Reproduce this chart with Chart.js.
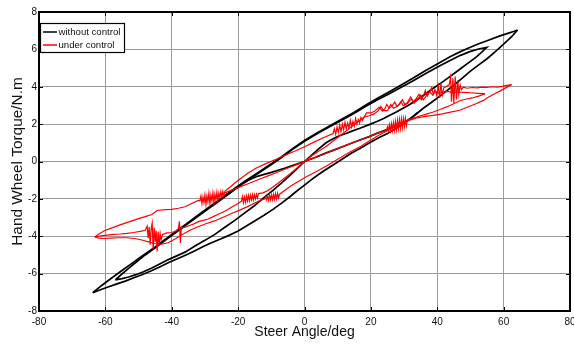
<!DOCTYPE html>
<html><head><meta charset="utf-8">
<script src="https://cdn.jsdelivr.net/npm/chart.js@4.4.1/dist/chart.umd.min.js"></script>
<style>html,body{margin:0;padding:0;background:#fff;}#wrap{width:574px;height:347px;position:relative;}</style>
</head><body><div id="wrap"><canvas id="c" width="574" height="347"></canvas></div>
<script>
// ---- tick labels / names ----
const xTickVals = [-80,-60,-40,-20,0,20,40,60,80];
const yTickVals = [-8,-6,-4,-2,0,2,4,6,8];
const seriesNames = ['without control','under control'];
const xTitle = 'Steer Angle/deg';
const yTitle = 'Hand Wheel Torque/N.m';

// ---- "without control" (black) traces, [angle, torque] ----
const blkOuterUpper = [[-63.8,-7.02],[-61,-6.62],[-58,-6.22],[-55,-5.83],[-52,-5.45],[-49,-5.07],[-45,-4.57],[-42,-4.17],[-39,-3.78],[-35,-3.26],[-32,-2.86],[-29,-2.47],[-25,-1.96],[-21,-1.44],[-18,-1.06],[-14.5,-0.65],[-11,-0.24],[-7,0.24],[-3.5,0.7],[0,1.12],[3.5,1.5],[7,1.85],[11.6,2.3],[15,2.64],[18.5,3.03],[22,3.38],[25.7,3.74],[29,4.08],[32.5,4.44],[36,4.82],[40.8,5.3],[44,5.62],[47,5.88],[49.8,6.1],[52.5,6.3],[55,6.46],[58.9,6.72],[61.5,6.87],[63.2,6.97],[64.2,7.04]];
const blkOuterLower = [[64.2,7.04],[62.5,6.7],[60,6.28],[57.5,5.88],[55,5.5],[52.5,5.17],[50,4.84],[47.8,4.5],[45.8,4.2],[43.3,3.85],[40.8,3.5],[38.3,3.17],[35.8,2.85],[33,2.45],[30,2.05],[27.5,1.76],[25,1.5],[22.5,1.28],[20,1.04],[16.7,0.7],[14.2,0.45],[12,0.2],[8.6,-0.19],[6,-0.48],[4,-0.72],[2,-0.98],[0,-1.26],[-2.3,-1.58],[-4.5,-1.9],[-7,-2.24],[-9.5,-2.56],[-12.2,-2.88],[-14.9,-3.17],[-17.5,-3.45],[-20,-3.72],[-22.6,-3.94],[-25.3,-4.15],[-28,-4.35],[-30.5,-4.55],[-33,-4.78],[-35.7,-5.0],[-38.3,-5.2],[-40.9,-5.4],[-43.5,-5.63],[-46.1,-5.85],[-48.8,-6.05],[-51.4,-6.22],[-54,-6.4],[-56.5,-6.55],[-59,-6.7],[-61.5,-6.86],[-63.8,-7.02]];
const blkInner = [[-57,-6.34],[-55,-6.02],[-53,-5.72],[-50.5,-5.35],[-48,-5.0],[-45,-4.62],[-42,-4.22],[-39,-3.83],[-35,-3.31],[-32,-2.92],[-29,-2.53],[-25,-2.02],[-21,-1.5],[-18,-1.12],[-14.5,-0.7],[-11,-0.28],[-7,0.2],[-3.5,0.66],[0,1.08],[3.5,1.46],[7,1.8],[11.6,2.25],[15,2.58],[18.5,2.96],[22,3.3],[25.7,3.64],[29,3.96],[32.5,4.3],[36,4.65],[40.8,5.12],[44,5.42],[47,5.68],[49.8,5.88],[52.5,6.02],[54.9,6.11],
  [53.5,5.87],[51.9,5.61],[49.8,5.33],[47.8,5.07],[45.8,4.8],[43.8,4.54],[41.3,4.22],[38.8,3.92],[36.3,3.6],[33.8,3.29],[31.7,3.05],[29.7,2.85],[27.8,2.66],[26,2.5],[24,2.32],[22,2.15],[19.3,1.96],[16.7,1.78],[14.5,1.64],[12.5,1.5],[10.5,1.38],[8.6,1.22],[6.5,1.0],[4,0.64],[2,0.32],[0,0],[-3,-0.52],[-6.45,-1.08],[-9.5,-1.55],[-12.5,-1.97],[-15.2,-2.38],[-18,-2.75],[-21,-3.15],[-24,-3.52],[-27,-3.9],[-30,-4.22],[-33,-4.52],[-36,-4.85],[-38.5,-5.05],[-41,-5.25],[-43.5,-5.47],[-46,-5.7],[-48.5,-5.9],[-51,-6.07],[-53,-6.18],[-55,-6.27],[-57,-6.34]];
const blkShallow = [[-24,-1.83],[-20,-1.32],[-17,-1.0],[-14,-0.78],[-10,-0.58],[-6,-0.36],[-3,-0.18],[0,0],[3,0.2],[6,0.42],[9,0.62],[12,0.83],[14.5,1.0],[16.7,1.15],[19.5,1.33],[22,1.52],[24.5,1.68],[27,1.85],[29.5,2.03],[32,2.3],[34,2.6]];

// ---- "under control" (red) traces ----
const redOuterUpper = [[-63.2,-4.04],[-62,-3.88],[-60,-3.68],[-58,-3.55],[-56,-3.42],[-54,-3.3],[-52,-3.18],[-50,-3.06],[-48,-2.95],[-46,-2.84],[-44.4,-2.62],[-42,-2.58],[-40,-2.56],[-38,-2.5],[-36,-2.42],[-34,-2.25],[-32,-2.08],
  [-31.5,-2.1],[-31.2,-1.85],[-30.9,-2.25],[-30.6,-1.9],[-30.3,-2.2],[-30,-1.8],[-29.7,-2.3],[-29.4,-1.85],[-29.1,-2.15],[-28.8,-1.7],[-28.5,-2.25],[-28.2,-1.8],[-27.9,-2.1],[-27.6,-1.68],[-27.3,-2.2],[-27,-1.75],[-26.7,-2.05],[-26.4,-1.65],[-26.1,-2.1],[-25.8,-1.7],[-25.5,-1.95],[-25.2,-1.62],[-24.9,-1.9],[-24.6,-1.6],[-24.3,-1.85],[-24,-1.6],
  [-22.5,-1.38],[-21,-1.15],[-19,-0.88],[-17,-0.62],[-14.5,-0.35],[-11.5,-0.1],[-8.5,0.12],[-6,0.33],[-3,0.55],[0,0.79],[3,1.05],[6,1.3],[8.6,1.5],
  [9,1.75],[9.4,1.45],[9.8,1.85],[10.2,1.55],[10.6,1.95],[11,1.6],[11.4,2.0],[11.8,1.7],[12.2,2.1],[12.6,1.75],[13,2.05],[13.4,1.8],[13.8,2.2],[14.2,1.85],[14.6,2.15],[15,1.9],[15.4,2.3],[15.8,2.0],[16.2,2.25],[16.6,2.05],[17,2.35],[17.4,2.2],
  [18.7,2.6],[20,2.6],[21.3,2.72],[22.5,2.9],[23.5,2.7],[24.3,2.85],[24.8,3.05],[25.5,2.85],[26.3,2.95],[27.2,3.18],[27.8,2.95],[28.6,3.05],[29.5,3.3],[30.2,3.05],[31,3.15],[32,3.45],[32.8,3.2],[33.6,3.35],[34.5,3.6],[35.2,3.3],[35.8,3.5],[36.4,3.8],[37,3.5],[37.6,3.7],[38.3,3.95],[38.8,3.6],[39.3,3.85],[39.8,3.55],[40.3,4.05],[40.7,3.4],[41.1,4.2],[41.5,3.55],[42,3.95],[42.8,4.02],[43.6,4.1],[44,4.5],[44.3,3.2],[44.7,4.45],[45,3.1],[45.4,4.55],[45.8,3.3],[46.2,4.35],[46.5,3.6],[46.9,4.1],[47.3,3.85],[47.8,3.98],[49,3.92],[50.5,3.96],[52,3.94],[53.5,3.98],[55,3.97],[56.5,4.0],[58,3.98],[59.5,4.02],[61,4.07],[62.4,4.11]];
const redOuterLower = [[62.4,4.11],[61,3.98],[59,3.78],[57,3.6],[55.5,3.45],[53.9,3.27],[51.5,3.08],[49,2.9],[46.8,2.74],[44,2.64],[41.5,2.55],[38.8,2.47],[36,2.4],[33.8,2.33],[31.5,2.2],[29,2.0],[27,1.85],[25,1.65],[22.5,1.42],[20,1.15],[17,0.82],[13.7,0.51],[10,0.12],[7,-0.2],[4,-0.5],[2,-0.68],[0,-0.87],[-2,-1.08],[-4,-1.3],[-6,-1.55],
  [-7.5,-1.75],[-7.8,-1.95],[-8.1,-1.7],[-8.4,-2.0],[-8.7,-1.72],[-9,-2.02],[-9.3,-1.75],[-9.6,-2.05],[-9.9,-1.78],[-10.2,-2.05],[-10.5,-1.8],[-10.8,-2.08],[-11.1,-1.85],[-11.4,-2.05],[-11.7,-1.88],[-12,-2.0],
  [-13,-2.05],[-15,-2.22],[-17,-2.4],[-19.5,-2.6],[-22,-2.78],[-24.5,-2.98],[-27.1,-3.18],[-29.5,-3.32],[-32.1,-3.49],[-34.5,-3.68],[-37.1,-3.93],[-39,-4.15],[-41.1,-4.35],[-43,-4.42],[-45,-4.4],[-47,-4.3],[-49,-4.2],[-51.2,-4.12],[-53.5,-4.08],[-56.2,-4.08],[-58.5,-4.1],[-60.5,-4.12],[-62,-4.1],[-63.2,-4.04]];
const redInnerA = [[-63.2,-4.04],[-61.5,-3.98],[-59.5,-3.94],[-57.5,-3.9],[-55.5,-3.88],[-53.5,-3.85],[-51.5,-3.8],[-49.5,-3.74],[-48,-3.68],
  [-47.4,-3.45],[-47.1,-4.1],[-46.8,-3.5],[-46.5,-4.45],[-46.2,-3.6],[-45.9,-3.3],[-45.6,-4.7],[-45.3,-3.55],[-45,-4.3],[-44.7,-3.7],[-44.4,-4.82],[-44.1,-3.75],[-43.8,-4.5],[-43.5,-3.85],[-43.2,-4.2],[-42.8,-3.9],
  [-41.5,-3.82],[-40,-3.8],[-38.8,-3.72],[-38,-3.6],[-37.7,-3.2],[-37.4,-4.36],[-37.1,-3.5],[-36.6,-3.55],[-35,-3.45],[-33.5,-3.35],[-32,-3.22],[-30.5,-3.15],[-29,-3.08],[-27.5,-2.95],[-26,-2.82],[-24.5,-2.7],[-23,-2.55],[-21.5,-2.4],[-20,-2.25],[-19,-2.12],
  [-18.7,-1.88],[-18.4,-2.2],[-18.1,-1.9],[-17.8,-2.18],[-17.5,-1.85],[-17.2,-2.12],[-16.9,-1.82],[-16.6,-2.1],[-16.3,-1.8],[-16,-2.05],[-15.7,-1.78],[-15.4,-2.05],[-15.1,-1.78],[-14.8,-2.0],[-14.5,-1.75],[-14.2,-1.95],[-13.9,-1.72],
  [-12.5,-1.68],[-11,-1.55],[-9.5,-1.36],[-8,-1.16],[-6.45,-0.95],[-4.5,-0.68],[-2.5,-0.38],[0,0],[2,0.28],[4,0.52],[6.6,0.82],[9,1.15],[11.6,1.5],[13.8,1.82],[16,2.12],[18,2.38],
  [19.5,2.45],[21,2.55],[22.2,2.72],[23,2.95],[23.8,2.72],[25,2.72],[26,3.05],[26.8,2.85],[28,2.95],[29,3.2],[29.8,2.98],[31,3.1],[32.2,3.35],[33,3.12],[34,3.3],[35,3.55],[35.8,3.3],[36.8,3.55],[37.8,3.72],[38.6,3.55],[39.5,3.75],[40.5,3.65],[41.5,3.7],[43,3.75],[44.5,3.7],[46,3.72],[48,3.7],[50,3.68],[52.3,3.65],[54.4,3.63]];
const redInnerB = [[54.4,3.63],[52.5,3.5],[50.5,3.4],[48.5,3.33],[46.8,3.25],[44.8,3.08],[42.8,2.92],[40.8,2.78],[38.8,2.65],[36.5,2.52],[34.5,2.42],[32.5,2.3],[31,2.22],
  [30.7,1.92],[30.4,2.32],[30.1,1.88],[29.8,2.3],[29.5,1.82],[29.2,2.28],[28.9,1.78],[28.6,2.24],[28.3,1.75],[28,2.2],[27.7,1.7],[27.4,2.14],[27.1,1.68],[26.8,2.08],[26.5,1.66],[26.2,2.02],[25.9,1.65],[25.6,1.97],[25.3,1.66],[25,1.86],[24.7,1.66],
  [22,1.52],[19,1.3],[16,1.1],[13,0.9],[10,0.69],[7,0.48],[4,0.27],[2,0.14],[0,0],[-2,-0.14],[-5,-0.35],[-8,-0.56],[-11,-0.77],[-14,-0.98],[-17,-1.19],[-20,-1.4],[-22.5,-1.57],[-24,-1.68]];

const toPts = a => a.map(p => ({x: p[0], y: p[1]}));
const BLACK = '#000000', RED = '#ff0000';
function ds(arr, color, w, label, order){
  return {label: label, data: toPts(arr), showLine: true, borderColor: color, backgroundColor: color,
    borderWidth: w, pointRadius: 0, pointHoverRadius: 0, tension: 0, fill: false, order: order, inLegend: !!label};
}
const datasets = [
  ds(blkOuterUpper, BLACK, 1.7, seriesNames[0], 2),
  ds(blkOuterLower, BLACK, 1.7, null, 2),
  ds(blkInner, BLACK, 1.7, null, 2),
  ds(blkShallow, BLACK, 1.7, null, 2),
  ds(redOuterUpper, RED, 1.2, seriesNames[1], 1),
  ds(redOuterLower, RED, 1.2, null, 1),
  ds(redInnerA, RED, 1.2, null, 1),
  ds(redInnerB, RED, 1.2, null, 1)
];

const FONT = "'Liberation Sans', Arial, Helvetica, sans-serif";

const framePlugin = {
  id: 'frame',
  afterDatasetsDraw(chart){
    const {ctx, chartArea: a, scales: {x, y}} = chart;
    ctx.save();
    ctx.strokeStyle = '#000'; ctx.lineWidth = 1;
    ctx.beginPath();
    x.ticks.forEach(t => { const p = Math.round(x.getPixelForValue(t.value)) + 0.5;
      ctx.moveTo(p, a.bottom); ctx.lineTo(p, a.bottom - 4); ctx.moveTo(p, a.top); ctx.lineTo(p, a.top + 4); });
    y.ticks.forEach(t => { const p = Math.round(y.getPixelForValue(t.value)) + 0.5;
      ctx.moveTo(a.left, p); ctx.lineTo(a.left + 4, p); ctx.moveTo(a.right, p); ctx.lineTo(a.right - 4, p); });
    ctx.stroke();
    ctx.lineWidth = 2;
    ctx.strokeRect(a.left, a.top, a.right - a.left, a.bottom - a.top);
    ctx.restore();
  },
  afterDraw(chart){
    const {ctx, chartArea: a} = chart;
    const items = chart.data.datasets.filter(d => d.inLegend);
    const bx = a.left + 1, by = a.top + 11, bw = 84, bh = 29;
    ctx.save();
    ctx.fillStyle = '#fff'; ctx.fillRect(bx, by, bw, bh);
    ctx.strokeStyle = '#000'; ctx.lineWidth = 1.2; ctx.strokeRect(bx + 0.5, by + 0.5, bw, bh);
    ctx.font = '9.6px ' + FONT; ctx.textBaseline = 'middle'; ctx.textAlign = 'left';
    items.forEach((d, i) => {
      const ly = by + 9 + i * 13;
      ctx.strokeStyle = d.borderColor; ctx.lineWidth = 1.5;
      ctx.beginPath(); ctx.moveTo(bx + 3, ly); ctx.lineTo(bx + 17, ly); ctx.stroke();
      ctx.fillStyle = '#111'; ctx.fillText(d.label, bx + 18.5, ly + 0.5);
    });
    ctx.restore();
  }
};

new Chart(document.getElementById('c'), {
  type: 'scatter',
  data: {datasets: datasets},
  options: {
    responsive: false, animation: false, devicePixelRatio: 1,
    layout: {padding: {top: 12, right: 4, left: 0, bottom: 0}},
    plugins: {legend: {display: false}, tooltip: {enabled: false}},
    events: [],
    scales: {
      x: {type: 'linear', min: -80, max: 80,
        afterBuildTicks: s => { s.ticks = xTickVals.map(v => ({value: v})); },
        grid: {color: '#9a9a9a', lineWidth: 1, drawTicks: false},
        border: {display: false},
        ticks: {autoSkip: false, maxRotation: 0, padding: 5, color: '#111', font: {family: FONT, size: 10}, callback: v => String(v)},
        title: {display: true, text: xTitle, color: '#111', font: {family: FONT, size: 14}, padding: {top: 0, bottom: 6}},
        afterFit: s => { s.height = 36; s.paddingLeft = 0; s.paddingRight = 0; }
      },
      y: {type: 'linear', min: -8, max: 8,
        afterBuildTicks: s => { s.ticks = yTickVals.map(v => ({value: v})); },
        grid: {color: '#9a9a9a', lineWidth: 1, drawTicks: false},
        border: {display: false},
        ticks: {autoSkip: false, padding: 2, color: '#111', font: {family: FONT, size: 10}, callback: v => String(v)},
        title: {display: true, text: yTitle, color: '#111', font: {family: FONT, size: 15.4}, padding: {top: 9, bottom: 0}},
        afterFit: s => { s.width = 39; s.paddingTop = 0; s.paddingBottom = 0; }
      }
    }
  },
  plugins: [framePlugin]
});
</script></body></html>
